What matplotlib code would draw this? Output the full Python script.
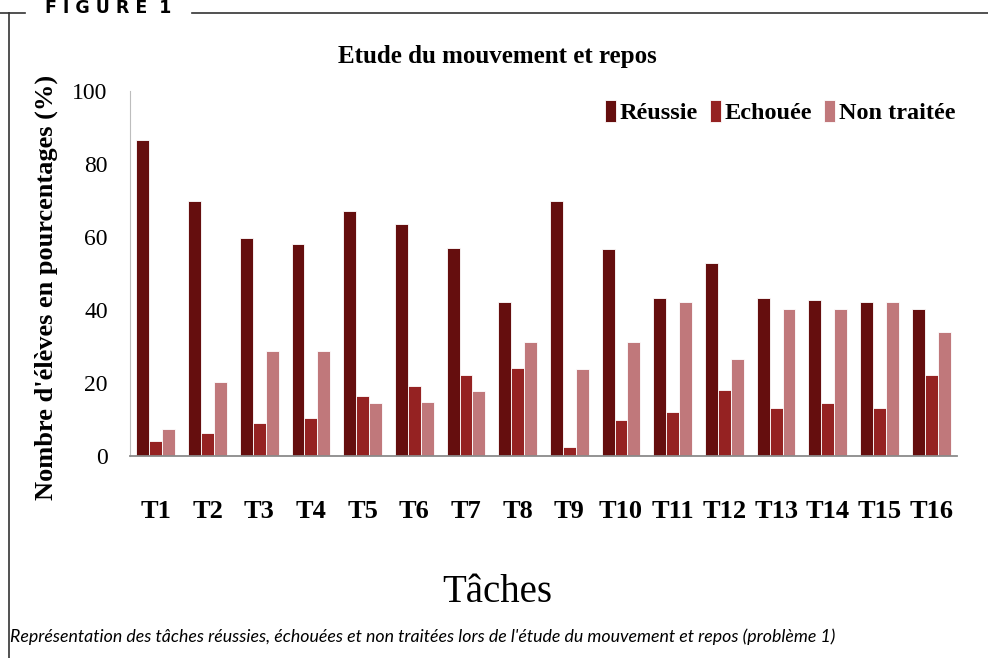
import matplotlib
matplotlib.use('agg')
import matplotlib.pyplot as plt
from matplotlib.lines import Line2D
import numpy as np

taches = ['T%d' % i for i in range(1, 17)]
reussie = [86.5, 70, 59.6, 58, 67, 63.5, 57, 42.2, 70, 56.6, 43.2, 52.8, 43.2, 42.7, 42.2, 40.4]
echouee = [4.1, 6.2, 9, 10.5, 16.5, 19.3, 22.3, 24, 2.6, 9.9, 12.1, 18.1, 13.2, 14.4, 13.2, 22.3]
non_traitee = [7.4, 20.2, 28.7, 28.7, 14.4, 14.9, 17.8, 31.3, 23.9, 31.3, 42.2, 26.5, 40.4, 40.4, 42.2, 34]

series = [('Réussie', reussie, '#650e0e'),
          ('Echouée', echouee, '#952222'),
          ('Non traitée', non_traitee, '#c0787b')]

serif = 'Liberation Serif'

fig = plt.figure(figsize=(9.88, 6.58), dpi=100)
ax = fig.add_axes([130/988, 1 - 456/658, (957 - 130)/988, (456 - 91)/658])

x = np.arange(len(taches))
w = 0.25
for i, (name, vals, col) in enumerate(series):
    ax.bar(x + (i - 1) * w, vals, w, color=col, edgecolor='white', linewidth=0.6, label=name)

ax.set_xlim(-0.5, len(taches) - 0.5)
ax.set_ylim(0, 100)
ax.set_yticks(range(0, 101, 20))
ax.set_xticks(x)
ax.set_xticklabels(taches, fontsize=19, fontweight='bold', family=serif)
ax.tick_params(axis='y', length=0, pad=16, labelsize=17)
ax.tick_params(axis='x', length=0, pad=32)
for lab in ax.get_yticklabels():
    lab.set_family(serif)

for s in ['top', 'right']:
    ax.spines[s].set_visible(False)
ax.spines['left'].set_color('#bdbdbd')
ax.spines['bottom'].set_color('#8a8a8a')
ax.spines['bottom'].set_linewidth(1.3)

ax.set_title('Etude du mouvement et repos', fontsize=18, fontweight='bold', family=serif,
             x=(497 - 130) / 827, y=1 + (91 - 57) / 365, va='center', pad=0)
ax.set_ylabel("Nombre d'élèves en pourcentages (%)", fontsize=19, fontweight='bold',
              family=serif)
ax.yaxis.set_label_coords((58 - 130) / 827, (456 - 287) / 365)
ax.set_xlabel('Tâches', fontsize=28, family=serif)
ax.xaxis.set_label_coords((497 - 130) / 827, (456 - 593) / 365)
ax.xaxis.label.set_va('center')

leg = ax.legend(loc='upper right', bbox_to_anchor=(0.998, 0.975), ncol=3, frameon=False,
                borderaxespad=0, borderpad=0,
                handlelength=0.45, handleheight=1.0, handletextpad=0.15, columnspacing=0.5,
                prop={'family': serif, 'weight': 'bold', 'size': 17.5})

# figure frame and captions
fig.add_artist(Line2D([0, 25/988], [1 - 13/658, 1 - 13/658], color='#333333', lw=1.2))
fig.add_artist(Line2D([192/988, 1], [1 - 13/658, 1 - 13/658], color='#333333', lw=1.2))
fig.add_artist(Line2D([9/988, 9/988], [0, 1 - 13/658], color='#333333', lw=1.2))
fig.text(45/988, 1 - 8/658, 'F I G U R E  1', fontsize=12.5, fontweight='bold',
         family='DejaVu Sans', va='center', ha='left')
fig.text(10/988, 1 - 637/658,
         "Représentation des tâches réussies, échouées et non traitées lors de l'étude du mouvement et repos (problème 1)",
         fontsize=12.8, style='italic', family='Lato', va='center', ha='left')

fig.savefig('out.png', dpi=100)
